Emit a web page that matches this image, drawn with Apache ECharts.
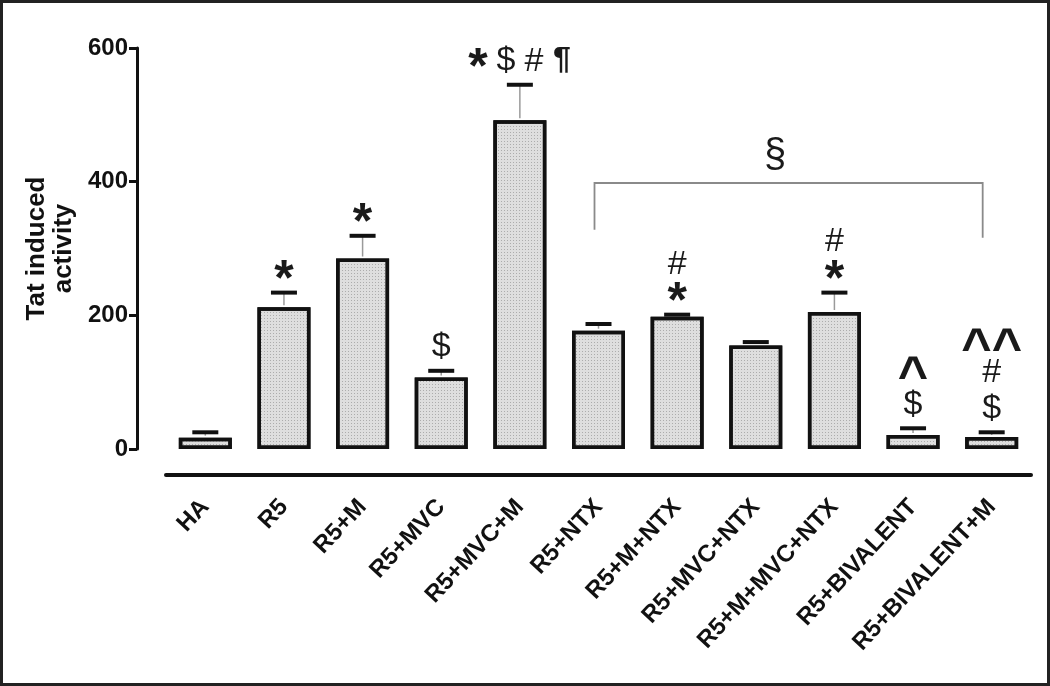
<!DOCTYPE html>
<html>
<head>
<meta charset="utf-8">
<script src="https://cdn.jsdelivr.net/npm/echarts@6/dist/echarts.min.js"></script>
<style>
html, body { margin: 0; padding: 0; background: #fff; }
#chart { width: 1050px; height: 686px; }
</style>
</head>
<body>
<div id="chart"></div>
<script>
const categories = ['HA', 'R5', 'R5+M', 'R5+MVC', 'R5+MVC+M', 'R5+NTX', 'R5+M+NTX',
  'R5+MVC+NTX', 'R5+M+MVC+NTX', 'R5+BIVALENT', 'R5+BIVALENT+M'];
const means = [17, 212, 285, 107, 492, 177, 198, 155, 205, 21, 18];
const errors = [8, 22, 34, 10, 53, 10, 3, 5, 29, 10, 7];
// significance marks above each bar, listed bottom to top
// (symbols sharing a row are separated by spaces)
const marks = [[], ['*'], ['*'], ['$'], ['* $ # ¶'], [], ['*', '#'], [], ['*', '#'],
  ['$', '^'], ['$', '#', '^^']];
// bracket over R5+NTX .. R5+BIVALENT+M
const bracketCats = [5, 10];
const bracketTop = 398;
const bracketFeet = [328, 316];
const bracketMark = '§';
const yTicks = [0, 200, 400, 600];

const FONT = 'Liberation Sans, Arial, sans-serif';
// font, box height used for stacking, vertical nudge
const glyphs = {
  '*': { font: 'bold 50px', h: 21, dy: 8 },
  '$': { font: '34px', h: 30, dy: 0 },
  '#': { font: '34px', h: 21, dy: 1 },
  '^': { font: 'bold 52px', h: 23, dy: 11 },
  '^^': { font: 'bold 52px', h: 23, dy: 11 },
  '¶': { font: 'bold 32px', h: 27, dy: -1 }
};

const chart = echarts.init(document.getElementById('chart'));

function errorItem(params, api) {
  const i = api.value(0);
  const base = api.coord([i, api.value(1)]);
  const top = api.coord([i, api.value(1) + api.value(2)]);
  return {
    type: 'group',
    children: [
      { type: 'line', shape: { x1: base[0], y1: base[1] - 2, x2: top[0], y2: top[1] },
        style: { stroke: '#9a9a9a', lineWidth: 1.5 } },
      { type: 'line', shape: { x1: top[0] - 13, y1: top[1], x2: top[0] + 13, y2: top[1] },
        style: { stroke: '#111', lineWidth: 4 } }
    ]
  };
}

function markItem(params, api) {
  const i = params.dataIndex;
  const top = api.coord([i, means[i] + errors[i]]);
  const children = [];
  let y = top[1] - 9;
  marks[i].forEach(row => {
    const parts = row.split(' ');
    const h = Math.max(...parts.map(p => glyphs[p].h));
    const cy = y - h / 2;
    parts.forEach((p, k) => {
      const g = glyphs[p];
      children.push({
        type: 'text',
        x: top[0] + (k - (parts.length - 1) / 2) * 28,
        y: cy + g.dy,
        style: {
          text: p, fill: '#1a1a1a', font: g.font + ' ' + FONT,
          align: 'center', verticalAlign: 'middle'
        }
      });
    });
    y -= h + 11;
  });
  return { type: 'group', children };
}

function bracketItem(params, api) {
  const a = api.coord([bracketCats[0], bracketFeet[0]]);
  const b = api.coord([bracketCats[0], bracketTop]);
  const c = api.coord([bracketCats[1], bracketTop]);
  const d = api.coord([bracketCats[1], bracketFeet[1]]);
  return {
    type: 'group',
    children: [
      { type: 'polyline', shape: { points: [[a[0] - 4, a[1]], [b[0] - 4, b[1]], [c[0] - 9, c[1]], [d[0] - 9, d[1]]] },
        style: { stroke: '#8a8a8a', lineWidth: 1.8, fill: null } },
      { type: 'text', x: (b[0] + c[0]) / 2 - 20, y: b[1] - 27,
        style: { text: bracketMark, font: '40px ' + FONT, fill: '#1a1a1a', align: 'center', verticalAlign: 'middle' } }
    ]
  };
}

chart.setOption({
  animation: false,
  graphic: [{
    type: 'rect', shape: { x: 1.5, y: 1.5, width: 1047, height: 683 },
    style: { fill: null, stroke: '#222', lineWidth: 3 }, z: 100
  }],
  grid: { left: 166, right: 19, top: 48, bottom: 237 },
  xAxis: {
    type: 'category',
    data: categories,
    offset: 26,
    axisLine: { onZero: false, lineStyle: { color: '#111', width: 4 } },
    axisTick: { alignWithLabel: true, length: 6, lineStyle: { color: '#111', width: 3 } },
    axisLabel: {
      interval: 0, rotate: 47, margin: 28, color: '#111',
      fontFamily: FONT, fontWeight: 'bold', fontSize: 24
    }
  },
  yAxis: {
    type: 'value',
    min: yTicks[0], max: yTicks[yTicks.length - 1], interval: 200,
    offset: 29,
    name: 'Tat induced\nactivity',
    nameLocation: 'middle',
    nameGap: 58,
    nameTextStyle: { fontFamily: FONT, fontWeight: 'bold', fontSize: 26, color: '#111', lineHeight: 27 },
    splitLine: { show: false },
    axisLine: { show: true, lineStyle: { color: '#111', width: 3 } },
    axisTick: { show: true, length: 8, lineStyle: { color: '#111', width: 3 } },
    axisLabel: { margin: 9, color: '#111', fontFamily: FONT, fontWeight: 'bold', fontSize: 24 }
  },
  series: [
    {
      type: 'bar',
      data: means,
      barWidth: 53,
      itemStyle: {
        color: '#dedede', borderColor: '#111', borderWidth: 3.5,
        decal: { symbol: 'rect', symbolSize: 1, dashArrayX: [1, 2], dashArrayY: [1, 2], color: 'rgba(110,110,110,0.45)' }
      }
    },
    {
      type: 'custom',
      renderItem: errorItem,
      data: means.map((m, i) => [i, m, errors[i]]),
      z: 3
    },
    {
      type: 'custom',
      renderItem: markItem,
      data: means.map((m, i) => [i, m + errors[i]]),
      z: 4
    },
    {
      type: 'custom',
      renderItem: bracketItem,
      data: [[bracketCats[0], bracketTop]],
      z: 4
    }
  ]
});
</script>
</body>
</html>
